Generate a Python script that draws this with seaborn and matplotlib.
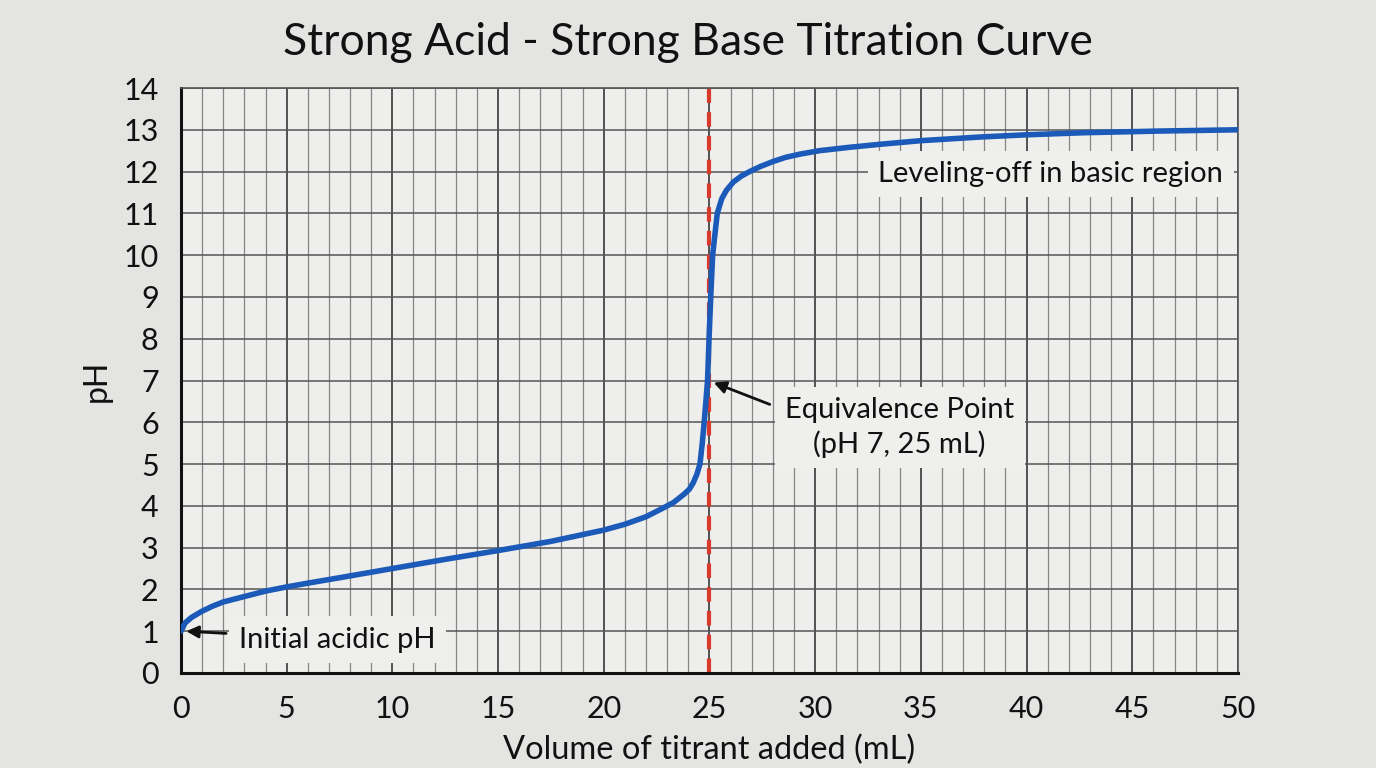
import numpy as np
import pandas as pd
import matplotlib
matplotlib.use("Agg")
import matplotlib.pyplot as plt
from matplotlib.ticker import MultipleLocator
import seaborn as sns

# ------------------------------------------------------------
# Data
# ------------------------------------------------------------

volume = [0, 0.2, 0.5, 1, 1.5, 2, 3, 4, 5, 6, 7.5, 10, 12.5, 15, 17.5,
          20, 21, 22, 22.7, 23.3, 23.8, 24.05, 24.23, 24.4, 24.55, 24.66,
          24.75, 24.91, 24.98, 25.06, 25.15, 25.28, 25.37, 25.58, 25.8,
          26.13, 26.5, 26.9, 27.4, 28, 28.6, 29.3, 30.2, 31.6, 33, 35,
          37.9, 40, 42.7, 46.3, 50]
ph = [1.0, 1.2, 1.33, 1.48, 1.6, 1.7, 1.83, 1.96, 2.06, 2.15, 2.28, 2.5,
      2.72, 2.93, 3.15, 3.42, 3.56, 3.74, 3.92, 4.08, 4.28, 4.4, 4.55,
      4.75, 5.0, 5.5, 6.0, 7.0, 8.0, 9.0, 10.0, 10.6, 11.0, 11.35, 11.55,
      11.75, 11.89, 12.0, 12.12, 12.24, 12.34, 12.42, 12.5, 12.58, 12.65,
      12.74, 12.83, 12.88, 12.93, 12.97, 13.0]

equiv_volume = 25
equiv_ph = 7

df = pd.DataFrame({"Volume": volume, "pH": ph})

# ------------------------------------------------------------
# Style
# ------------------------------------------------------------

sns.set_style("white")
plt.rcParams["font.family"] = ["Lato", "DejaVu Sans"]
plt.rcParams["text.color"] = "#111111"

fig = plt.figure(figsize=(13.76, 7.68), dpi=100)
fig.patch.set_facecolor("#e4e4e2")
ax = fig.add_axes([0.1315, 0.1237, 0.7682, 0.7617])
ax.set_facecolor("#eeeeec")

# ------------------------------------------------------------
# Grid
# ------------------------------------------------------------

ax.set_xlim(0, 50)
ax.set_ylim(0, 14)
ax.xaxis.set_major_locator(MultipleLocator(5))
ax.xaxis.set_minor_locator(MultipleLocator(1))
ax.yaxis.set_major_locator(MultipleLocator(1))
ax.yaxis.set_minor_locator(MultipleLocator(0.2))

ax.grid(which="major", axis="x", color="#454545", linewidth=1.3)
ax.grid(which="minor", axis="x", color="#858585", linewidth=0.9)
ax.grid(which="major", axis="y", color="#555555", linewidth=1.1)
ax.set_axisbelow(True)

# ------------------------------------------------------------
# Curve and equivalence line
# ------------------------------------------------------------

ax.axvline(equiv_volume, color="#d93a2e", linewidth=3,
           linestyle=(0, (3.5, 2.2)), zorder=2)

sns.lineplot(data=df, x="Volume", y="pH", ax=ax, color="#1b5ab8",
             linewidth=4, zorder=3)

# ------------------------------------------------------------
# Axes, ticks, labels
# ------------------------------------------------------------

for side in ["top", "right"]:
    ax.spines[side].set_color("#555555")
    ax.spines[side].set_linewidth(1.2)
for side in ["left", "bottom"]:
    ax.spines[side].set_color("#111111")
    ax.spines[side].set_linewidth(2.2)

ax.tick_params(which="major", direction="out", length=11, width=2,
               color="#111111", labelcolor="#111111", labelsize=22, pad=5)
ax.tick_params(which="minor", direction="out", length=6, width=1.8,
               color="#111111")
ax.tick_params(axis="y", which="minor", length=7)

ax.set_xlabel("Volume of titrant added (mL)", fontsize=23.5, labelpad=8,
              color="#111111")
ax.set_ylabel("pH", fontsize=23, labelpad=8, color="#111111")
fig.suptitle("Strong Acid - Strong Base Titration Curve", fontsize=32,
             y=0.972, color="#111111")

# ------------------------------------------------------------
# Annotations
# ------------------------------------------------------------

box = dict(boxstyle="square,pad=0.35", facecolor="#efefed",
           edgecolor="none")

ax.annotate("Initial acidic pH", xy=(0.25, 1.0), xytext=(2.75, 0.8),
            fontsize=21, va="center", ha="left", bbox=box,
            arrowprops=dict(arrowstyle="-|>", color="#111111", lw=2,
                            mutation_scale=18, shrinkA=2, shrinkB=0),
            zorder=5)

ax.annotate("Equivalence Point\n(pH 7, 25 mL)",
            xy=(equiv_volume + 0.2, equiv_ph - 0.05),
            xytext=(34.0, 5.88), fontsize=21, va="center", ha="center",
            linespacing=1.3, bbox=box,
            arrowprops=dict(arrowstyle="-|>", color="#111111", lw=2,
                            mutation_scale=18, shrinkA=4, shrinkB=0,
                            relpos=(0.0, 0.78)),
            zorder=5)

ax.text(41.15, 11.94, "Leveling-off in basic region", fontsize=21,
        ha="center", va="center", bbox=box, zorder=5)

fig.savefig("out.png", dpi=100, facecolor=fig.get_facecolor())
